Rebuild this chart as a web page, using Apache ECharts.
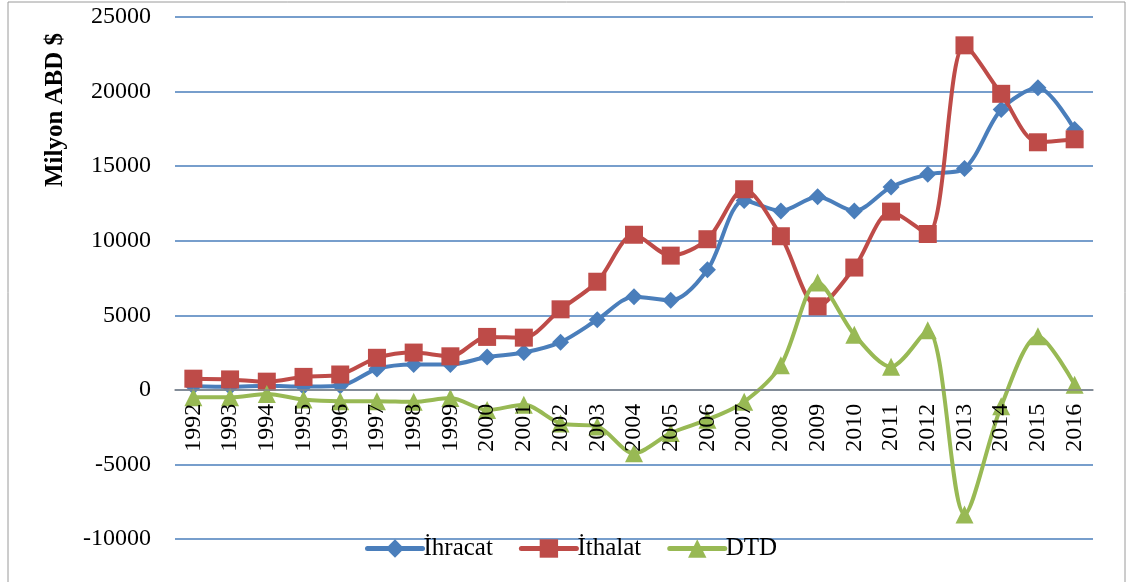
<!DOCTYPE html>
<html>
<head>
<meta charset="utf-8">
<script src="https://cdn.jsdelivr.net/npm/echarts@6/dist/echarts.min.js"></script>
<style>
  html, body { margin: 0; padding: 0; background: #fff; }
  #chart { width: 1127px; height: 582px; }
</style>
</head>
<body>
<div id="chart"></div>
<script>
// years on the category axis
const years = ['1992','1993','1994','1995','1996','1997','1998','1999','2000','2001','2002','2003','2004',
  '2005','2006','2007','2008','2009','2010','2011','2012','2013','2014','2015','2016'];

// Milyon ABD $
const ihracat = [250, 200, 270, 220, 270, 1400, 1700, 1700, 2200, 2500, 3200, 4700, 6250,
  6000, 8050, 12700, 12000, 12950, 12000, 13600, 14450, 14850, 18800, 20250, 17450];
const ithalat = [750, 700, 550, 870, 1030, 2150, 2500, 2250, 3550, 3500, 5400, 7250, 10400,
  9000, 10100, 13450, 10300, 5600, 8200, 11950, 10450, 23100, 19850, 16600, 16800];
const dtd = [-500, -500, -280, -650, -760, -760, -800, -550, -1350, -1000, -2250, -2450, -4250,
  -2900, -2000, -800, 1650, 7200, 3700, 1550, 4000, -8350, -1100, 3600, 350];

const yTicks = { min: -10000, max: 25000, step: 5000 };

const serif = '"Liberation Serif", "DejaVu Serif", serif';
const chart = echarts.init(document.getElementById('chart'));

const gridTop = 17, gridBottom = 43, plotH = 582 - gridTop - gridBottom;
// pixel distance from the bottom of the grid up to the zero line
const zeroOffset = plotH * (0 - yTicks.min) / (yTicks.max - yTicks.min);

const makeSeries = (name, data, color, symbol, size) => ({
  name,
  type: 'line',
  data,
  smooth: 0.3,
  symbol,
  symbolSize: size,
  lineStyle: { color, width: 4 },
  itemStyle: { color },
  z: 3
});

chart.setOption({
  animation: false,
  textStyle: { fontFamily: serif },
  grid: { left: 175, right: 34, top: gridTop, bottom: gridBottom },
  legend: {
    top: 531,
    left: 360,
    itemWidth: 55,
    itemHeight: 23,
    itemGap: 26,
    lineStyle: { width: 5, cap: 'round' },
    textStyle: { fontFamily: serif, fontSize: 25, color: '#000', padding: [0, 0, 0, -4] },
    data: ['İhracat', 'İthalat', 'DTD']
  },
  graphic: [
    {
      type: 'rect',
      shape: { x: 8, y: 2, width: 1117, height: 600 },
      style: { fill: 'none', stroke: '#9a9a9a', lineWidth: 1 },
      silent: true
    },
    {
      type: 'text',
      x: 56,
      y: 110,
      rotation: Math.PI / 2,
      style: {
        text: 'Milyon ABD $',
        font: 'bold 25px ' + serif,
        fill: '#000',
        align: 'center',
        verticalAlign: 'middle'
      }
    }
  ],
  xAxis: {
    type: 'category',
    data: years,
    position: 'bottom',
    offset: -zeroOffset,
    axisLine: { onZero: false, lineStyle: { color: '#868686', width: 1.5 } },
    axisTick: { show: false },
    axisLabel: { rotate: 90, fontSize: 24, color: '#000', fontFamily: serif, margin: 14, interval: 0 },
    z: 4
  },
  yAxis: {
    type: 'value',
    min: yTicks.min,
    max: yTicks.max,
    interval: yTicks.step,
    axisLine: { show: false },
    axisTick: { show: false },
    axisLabel: { fontSize: 24, color: '#000', fontFamily: serif, margin: 24, formatter: v => String(v) },
    splitLine: { lineStyle: { color: '#4a7ebb', width: 1.5 } }
  },
  series: [
    makeSeries('İhracat', ihracat, '#4a7ebb', 'diamond', 17),
    makeSeries('İthalat', ithalat, '#be4b48', 'rect', 18),
    makeSeries('DTD', dtd, '#98b954', 'triangle', 18)
  ]
});
</script>
</body>
</html>
